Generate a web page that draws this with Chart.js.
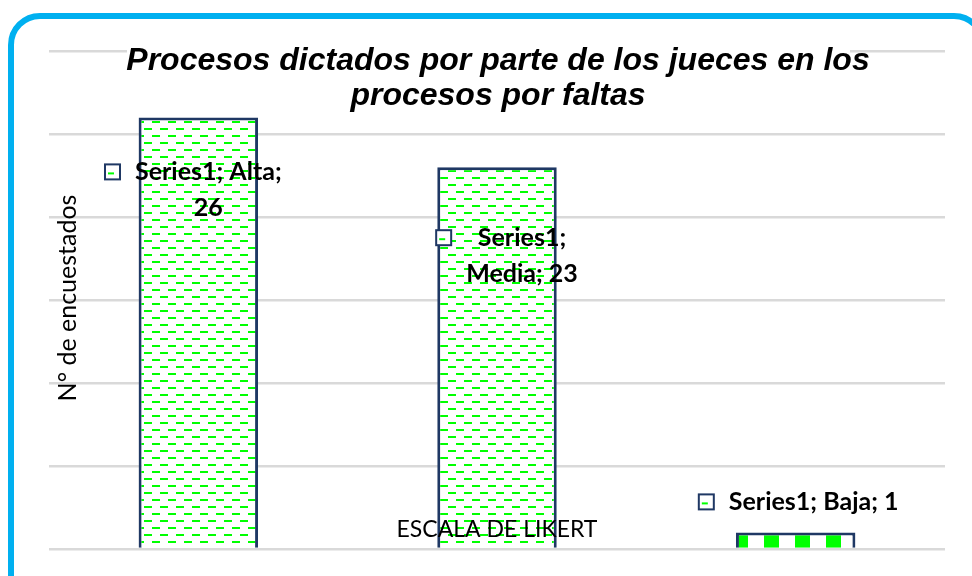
<!DOCTYPE html>
<html>
<head>
<meta charset="utf-8">
<script src="https://cdn.jsdelivr.net/npm/chart.js@4/dist/chart.umd.min.js"></script>
<style>
    html, body { margin: 0; padding: 0; background: #fff; overflow: hidden; }
    #wrap { position: relative; width: 972px; height: 576px; }
    #frame {
        position: absolute; left: 8px; top: 13px; width: 966px; height: 600px;
        border: 6px solid #00b0f0; border-radius: 32px; pointer-events: none;
    }
</style>
</head>
<body>
<div id="wrap">
    <canvas id="chart" width="972" height="576"></canvas>
    <div id="frame"></div>
</div>
<script>
const seriesName = 'Series1';
const categories = ['Alta', 'Media', 'Baja'];
const values = [26, 23, 1];
const yAxisMax = 30;
const yAxisStep = 5;
const titleLines = ['Procesos dictados por parte de los jueces en los', 'procesos por faltas'];
const yAxisTitle = 'N° de encuestados';
const xAxisTitle = 'ESCALA DE LIKERT';

// where each data label sits, relative to the top centre of its bar
const labelPlacement = [
    { dx: 10, dy: 55, lines: 2 },
    { dx: 25, dy: 71, lines: 1 },
    { dx: 18, dy: -30, lines: 0 }
];

function makeDashPattern() {
    const c = document.createElement('canvas');
    c.width = 16;
    c.height = 14;
    const g = c.getContext('2d');
    g.fillStyle = '#fff';
    g.fillRect(0, 0, 16, 14);
    g.fillStyle = '#00ff00';
    g.fillRect(0, 2, 8, 2);
    g.fillRect(8, 9, 8, 2);
    return g.createPattern(c, 'repeat');
}

function makeBlockPattern() {
    const c = document.createElement('canvas');
    c.width = 31;
    c.height = 20;
    const g = c.getContext('2d');
    g.fillStyle = '#fff';
    g.fillRect(0, 0, 31, 20);
    g.fillStyle = '#00ff00';
    g.fillRect(20, 0, 11, 20);
    g.fillRect(0, 0, 4, 20);
    return g.createPattern(c, 'repeat');
}

function labelText(i, lines) {
    const parts = [seriesName + ';', categories[i] + ';', String(values[i])];
    if (lines === 2) return [parts[0] + ' ' + parts[1], parts[2]];
    if (lines === 1) return [parts[0], parts[1] + ' ' + parts[2]];
    return [parts.join(' ')];
}

const textPlugin = {
    id: 'textPlugin',
    afterDatasetsDraw(chart) {
        const ctx = chart.ctx;
        ctx.save();

        // title box hides the top gridline
        ctx.fillStyle = '#fff';
        ctx.fillRect(127, 40, 723, 26);
        ctx.fillStyle = '#000';
        ctx.font = 'italic bold 32px "Liberation Sans", Arial, sans-serif';
        ctx.textAlign = 'center';
        ctx.textBaseline = 'alphabetic';
        ctx.fillText(titleLines[0], 498, 70);
        ctx.fillText(titleLines[1], 498, 105);

        // axis titles
        ctx.textBaseline = 'middle';
        ctx.font = '23px Lato, sans-serif';
        ctx.fillText(xAxisTitle, 497, 530);
        ctx.save();
        ctx.translate(68, 298);
        ctx.rotate(-Math.PI / 2);
        ctx.font = '25px Lato, sans-serif';
        ctx.fillText(yAxisTitle, 0, 0);
        ctx.restore();

        // data labels with their legend keys
        const meta = chart.getDatasetMeta(0);
        ctx.font = 'bold 25px Lato, sans-serif';
        meta.data.forEach((bar, i) => {
            const p = labelPlacement[i];
            const lines = labelText(i, p.lines);
            const cx = bar.x + p.dx;
            const cy = bar.y + p.dy;
            let widest = 0;
            lines.forEach((line, k) => {
                widest = Math.max(widest, ctx.measureText(line).width);
                ctx.fillStyle = '#000';
                ctx.fillText(line, cx, cy + k * 36);
            });
            const keyX = cx - widest / 2 - 30;
            ctx.fillStyle = '#fff';
            ctx.fillRect(keyX, cy - 8, 15, 15);
            ctx.fillStyle = '#00ff00';
            ctx.fillRect(keyX + 3, cy, 6, 2);
            ctx.strokeStyle = '#1f3864';
            ctx.lineWidth = 2;
            ctx.strokeRect(keyX, cy - 8, 15, 15);
        });
        ctx.restore();
    }
};

const dashFill = makeDashPattern();
const blockFill = makeBlockPattern();

new Chart(document.getElementById('chart'), {
    type: 'bar',
    data: {
        labels: categories,
        datasets: [{
            label: seriesName,
            data: values,
            backgroundColor: values.map(v => v < 2 ? blockFill : dashFill),
            borderColor: '#1f3864',
            borderWidth: 3,
            categoryPercentage: 1,
            barPercentage: 0.4
        }]
    },
    options: {
        responsive: false,
        animation: false,
        layout: { padding: { left: 49, right: 27, top: 51, bottom: 27 } },
        plugins: {
            legend: { display: false },
            title: { display: false },
            tooltip: { enabled: false }
        },
        scales: {
            x: { display: false },
            y: {
                min: 0,
                max: yAxisMax,
                ticks: { display: false, stepSize: yAxisStep },
                border: { display: false },
                grid: { color: '#d9d9d9', lineWidth: 2.5, drawTicks: false }
            }
        }
    },
    plugins: [textPlugin]
});
</script>
</body>
</html>
